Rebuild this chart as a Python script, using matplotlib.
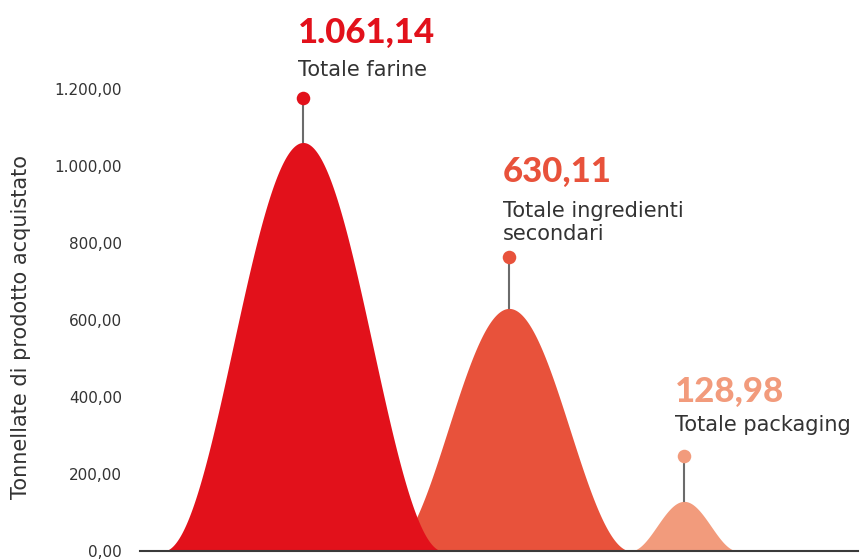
import numpy as np
import matplotlib
matplotlib.use("Agg")
import matplotlib.pyplot as plt

# ---- data ----
categories = ["Totale farine", "Totale ingredienti\nsecondari", "Totale packaging"]
values = [1061.14, 630.11, 128.98]
value_labels = ["1.061,14", "630,11", "128,98"]
y_ticks = [0, 200, 400, 600, 800, 1000, 1200]
y_tick_labels = ["0,00", "200,00", "400,00", "600,00", "800,00", "1.000,00", "1.200,00"]
y_label = "Tonnellate di prodotto acquistato"

# ---- layout / style ----
centers = [303, 509, 684]
half_widths = [140, 122, 54]
stem_px = [44, 51, 45]
text_dx = [-5, -6, -9]
label_dy = [22, 17, 25]
num_dy = [55, 75, 54]
colors = ["#E2111B", "#E8523B", "#F29B7C"]
text_color = "#333333"
font = "DejaVu Sans"
num_font = "Lato"

W, H = 860, 560
fig = plt.figure(figsize=(W / 100, H / 100), dpi=100)
ax = fig.add_axes([140 / W, 9 / H, 718 / W, 462 / H])
ax.set_xlim(140, 858)
ax.set_ylim(0, 1200)
px_per_unit = 462 / 1200

for i, (v, c, w, col) in enumerate(zip(values, centers, half_widths, colors)):
    x = np.linspace(c - w, c + w, 500)
    y = v * (1 + np.cos(np.pi * (x - c) / w)) / 2
    ax.fill_between(x, 0, y, color=col, lw=0, zorder=10 - i)
    dy = v + stem_px[i] / px_per_unit
    ax.plot([c, c], [v, dy], color="#6b6b6b", lw=1.5, zorder=20, clip_on=False)
    ax.scatter([c], [dy], s=95, color=col, zorder=21, clip_on=False, linewidths=0)
    ax.annotate(categories[i], (c, dy), xytext=(text_dx[i], label_dy[i]),
                textcoords="offset pixels", ha="left", va="baseline", fontsize=15,
                color=text_color, family=font, linespacing=1.2, annotation_clip=False)
    ax.annotate(value_labels[i], (c, dy), xytext=(text_dx[i], num_dy[i]),
                textcoords="offset pixels", ha="left", va="baseline",
                fontsize=25, fontweight="black", color=col, family=num_font,
                annotation_clip=False)

ax.axhline(0, color="#3a3a3a", lw=1.5, zorder=30, clip_on=False)
ax.set_yticks(y_ticks)
ax.set_yticklabels(y_tick_labels, family=font, fontsize=11, color=text_color)
ax.tick_params(axis="y", length=0, pad=13)
ax.set_xticks([])
for s in ax.spines.values():
    s.set_visible(False)
fig.text(21 / W, 1 - 327 / H, y_label, rotation=90, ha="center", va="center",
         fontsize=15, color=text_color, family=font)

fig.savefig("out.png", dpi=100)
